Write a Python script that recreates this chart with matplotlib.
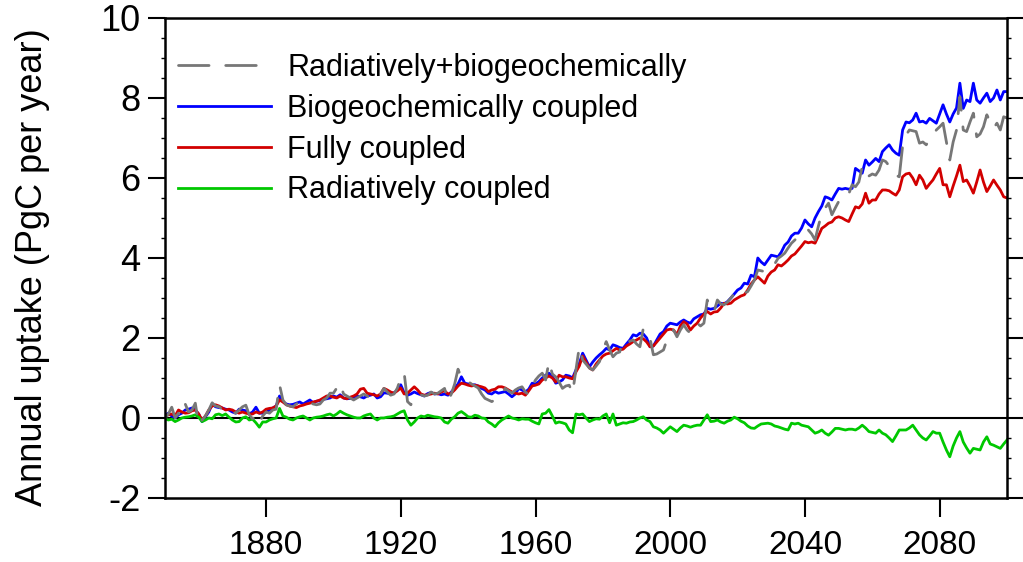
import matplotlib
matplotlib.use("Agg")
import matplotlib.pyplot as plt
from matplotlib.ticker import MultipleLocator

plt.rcParams["font.family"] = ["Liberation Sans", "DejaVu Sans"]
plt.rcParams["axes.unicode_minus"] = False

years = list(range(1850, 2101))

# Radiatively+biogeochemically (grey dashed)
rad_bgc = [
    0.0, 0.1, 0.27, 0.0, 0.12, 0.05, 0.35, 0.15, 0.2, 0.37,
    -0.17, -0.05, 0.05, 0.2, 0.38, 0.3, 0.28, 0.22, 0.15, 0.2,
    0.15, 0.12, 0.2, 0.28, 0.32, 0.08, -0.02, 0.05, -0.13, 0.05,
    0.15, 0.12, 0.2, 0.22, 0.83, 0.45, 0.33, 0.3, 0.28, 0.35,
    0.4, 0.43, 0.4, 0.38, 0.35, 0.33, 0.35, 0.45, 0.5, 0.62,
    0.62, 0.75, 0.87, 0.6, 0.55, 0.5, 0.45, 0.5, 0.55, 0.6,
    0.55, 0.5, 0.48, 0.45, 0.6, 0.74, 0.65, 0.57, 0.6, 0.75,
    1.0, 1.13, 0.41, 0.33, 0.55, 0.6, 0.58, 0.55, 0.57, 0.65,
    0.6, 0.62, 0.68, 0.74, 0.41, 0.6, 0.85, 1.22, 1.0, 0.91,
    0.91, 0.85, 0.8, 0.75, 0.6, 0.49, 0.45, 0.41, 0.45, 0.53,
    0.6, 0.74, 0.68, 0.62, 0.7, 0.75, 0.78, 0.65, 0.58, 0.8,
    0.95, 1.05, 1.12, 0.95, 1.41, 1.1, 1.03, 0.9, 0.74, 0.8,
    0.82, 0.62, 1.2, 1.78, 1.45, 1.35, 1.25, 1.2, 1.3, 1.41,
    1.7, 1.91, 1.7, 1.53, 1.62, 1.65, 1.95, 1.9, 1.92, 1.95,
    1.85, 1.78, 2.24, 2.1, 1.99, 1.58, 1.6, 1.65, 1.7, 1.95,
    2.12, 2.2, 2.03, 2.2, 2.33, 2.2, 2.12, 2.25, 2.37, 2.3,
    2.37, 2.95, 2.7, 2.66, 2.95, 2.85, 2.83, 2.9, 3.0, 3.1,
    3.2, 3.15, 3.12, 3.16, 3.3, 3.45, 3.7, 3.68, 3.66, 3.7,
    3.74, 3.85, 3.99, 4.05, 4.12, 4.25, 4.37, 4.45, 4.53, 4.6,
    4.66, 4.7, 4.6, 4.45, 4.8, 5.12, 5.25, 5.37, 5.08, 5.25,
    5.41, 5.43, 5.45, 5.6, 5.83, 5.78, 5.9, 6.28, 6.03, 6.05,
    6.1, 6.07, 6.2, 6.45, 6.41, 6.3, 6.15, 6.07, 6.03, 6.8,
    7.07, 7.2, 7.18, 7.16, 6.87, 6.9, 6.83, 6.95, 7.07, 7.2,
    7.28, 7.37, 6.9, 6.45, 6.9, 7.2, 8.03, 7.2, 7.16, 7.4,
    7.62, 7.03, 7.1, 7.28, 7.58, 7.4, 7.24, 7.37, 7.2, 7.53,
    7.5,
]

# Biogeochemically coupled (blue)
bgc = [
    0.05, 0.12, 0.05, 0.0, 0.08, 0.12, 0.2, 0.22, 0.25, 0.2,
    0.1, -0.09, 0.03, 0.15, 0.35, 0.28, 0.26, 0.25, 0.22, 0.2,
    0.15, 0.12, 0.22, 0.2, 0.18, 0.1, 0.15, 0.27, 0.12, 0.12,
    0.14, 0.2, 0.25, 0.3, 0.55, 0.41, 0.35, 0.33, 0.34, 0.37,
    0.4, 0.35, 0.4, 0.45, 0.38, 0.42, 0.43, 0.47, 0.48, 0.5,
    0.55, 0.52, 0.58, 0.5, 0.48, 0.49, 0.52, 0.55, 0.53, 0.5,
    0.55, 0.57, 0.6, 0.5, 0.53, 0.63, 0.62, 0.6, 0.63, 0.7,
    0.83, 0.63, 0.57, 0.6, 0.65, 0.61, 0.58, 0.55, 0.61, 0.64,
    0.6, 0.61, 0.58, 0.6, 0.57, 0.65, 0.74, 0.85, 1.03, 0.87,
    0.85, 0.83, 0.83, 0.8, 0.74, 0.7, 0.62, 0.6, 0.66, 0.62,
    0.64, 0.66, 0.6, 0.53, 0.6, 0.74, 0.7, 0.65, 0.72, 0.87,
    0.85, 0.91, 1.0, 1.07, 1.12, 1.05, 0.87, 0.9, 0.95, 1.07,
    1.05, 1.0, 1.2, 1.36, 1.62, 1.45, 1.28, 1.4, 1.5, 1.58,
    1.65, 1.74, 1.7, 1.83, 1.8, 1.76, 1.74, 1.85, 1.95, 2.08,
    2.05, 2.12, 2.1, 2.0, 1.78, 1.8, 1.95, 2.1, 2.16, 2.3,
    2.37, 2.35, 2.33, 2.4, 2.45, 2.4, 2.37, 2.48, 2.53, 2.58,
    2.6, 2.74, 2.72, 2.74, 2.8, 2.87, 2.85, 2.91, 3.0, 3.1,
    3.2, 3.25, 3.37, 3.35, 3.57, 3.53, 4.0, 3.9, 3.83, 3.95,
    4.07, 4.05, 4.03, 4.15, 4.32, 4.4, 4.55, 4.62, 4.62, 4.75,
    4.95, 4.85, 4.78, 5.0, 5.16, 5.3, 5.53, 5.5, 5.45, 5.6,
    5.74, 5.72, 5.74, 5.72, 5.74, 6.24, 6.18, 6.12, 6.45, 6.32,
    6.4, 6.49, 6.41, 6.66, 6.75, 6.83, 6.7, 6.62, 6.57, 7.2,
    7.4, 7.38, 7.45, 7.62, 7.4, 7.42, 7.37, 7.49, 7.43, 7.37,
    7.6, 7.83, 7.6, 7.4, 7.6, 7.75, 8.37, 7.74, 7.95, 7.91,
    8.37, 7.95, 7.87, 8.0, 8.12, 7.91, 8.0, 8.2, 7.95, 8.16,
    8.16,
]

# Fully coupled (red)
full = [
    0.05, 0.08, 0.1, 0.05, 0.2, 0.15, 0.12, 0.13, 0.18, 0.2,
    0.1, -0.05, 0.05, 0.2, 0.3, 0.33, 0.3, 0.25, 0.2, 0.22,
    0.2, 0.15, 0.12, 0.15, 0.12, 0.1, 0.1, 0.15, 0.12, 0.15,
    0.22, 0.24, 0.25, 0.3, 0.45, 0.4, 0.33, 0.3, 0.28, 0.26,
    0.3, 0.32, 0.35, 0.37, 0.4, 0.42, 0.45, 0.5, 0.55, 0.55,
    0.52, 0.5, 0.55, 0.5, 0.48, 0.52, 0.55, 0.6, 0.72, 0.74,
    0.62, 0.6, 0.58, 0.55, 0.6, 0.74, 0.7, 0.65, 0.62, 0.68,
    0.75, 0.6, 0.62, 0.7, 0.78, 0.7, 0.6, 0.57, 0.58, 0.6,
    0.62, 0.6, 0.65, 0.68, 0.6, 0.62, 0.7, 0.8, 0.87, 0.85,
    0.82, 0.8, 0.82, 0.8, 0.78, 0.75, 0.66, 0.7, 0.72, 0.78,
    0.78, 0.75, 0.7, 0.65, 0.62, 0.6, 0.62, 0.57, 0.68, 0.8,
    0.82, 0.85, 0.95, 1.0, 1.05, 1.0, 0.9, 1.07, 1.03, 1.03,
    1.0, 0.98, 1.15, 1.3, 1.55, 1.4, 1.25, 1.2, 1.35, 1.45,
    1.55, 1.6, 1.62, 1.68, 1.74, 1.7, 1.72, 1.8, 1.85, 1.91,
    1.95, 2.0, 1.98, 1.9, 1.78, 1.8, 1.9, 2.0, 2.1, 2.2,
    2.22, 2.2, 2.08, 2.3, 2.41, 2.35, 2.2, 2.3, 2.37, 2.5,
    2.6, 2.66, 2.6, 2.65, 2.66, 2.75, 2.87, 2.85, 2.87, 2.95,
    3.0, 3.05, 3.08, 3.2, 3.35, 3.45, 3.53, 3.45, 3.37, 3.55,
    3.65, 3.7, 3.83, 3.8, 3.87, 3.95, 4.05, 4.1, 4.2, 4.3,
    4.41, 4.38, 4.4, 4.37, 4.55, 4.74, 4.8, 4.87, 4.9, 5.0,
    5.03, 5.0, 4.95, 4.91, 5.1, 5.28, 5.25, 5.35, 5.62, 5.37,
    5.45, 5.45, 5.6, 5.7, 5.7, 5.68, 5.62, 5.57, 5.7, 6.03,
    6.1, 6.12, 6.0, 5.83, 6.07, 5.95, 5.74, 5.85, 5.95, 6.1,
    6.24, 5.83, 5.83, 5.53, 5.8, 6.05, 6.32, 5.91, 5.95, 5.8,
    5.62, 5.9, 6.2, 5.9, 5.66, 5.8, 5.95, 5.82, 5.7, 5.53,
    5.5,
]

# Radiatively coupled (green)
rad = [
    -0.02, -0.05, -0.03, -0.09, -0.05, 0.0, 0.02, 0.03, 0.05, 0.08,
    0.02, -0.09, -0.05, 0.0, -0.02, 0.08, 0.1, 0.06, 0.1, 0.02,
    -0.05, -0.1, -0.09, 0.0, 0.03, -0.05, -0.03, -0.12, -0.23, -0.1,
    -0.1, -0.05, -0.02, 0.0, 0.24, 0.05, 0.02, -0.03, -0.05, 0.0,
    0.03, 0.05, 0.0, -0.05, 0.0, 0.02, 0.03, 0.05, 0.08, 0.1,
    0.05, 0.1, 0.17, 0.12, 0.08, 0.05, 0.02, 0.0, 0.0, 0.05,
    0.08, 0.1, 0.0, -0.05, 0.0, 0.0, 0.02, 0.03, 0.05, 0.1,
    0.15, 0.18, -0.05, -0.18, -0.1, 0.0, 0.05, 0.03, 0.07, 0.05,
    0.03, 0.02, 0.0, -0.1, -0.13, -0.03, 0.03, 0.12, 0.16, 0.1,
    0.03, 0.02, 0.07, 0.05, 0.0, -0.01, -0.1, -0.15, -0.22, -0.12,
    -0.05, 0.0, 0.05, 0.0, -0.02, -0.05, -0.02, -0.03, -0.03, -0.08,
    -0.12, -0.15, 0.1, 0.12, 0.21, 0.05, -0.13, -0.1, -0.12, -0.15,
    -0.3, -0.37, 0.1, 0.08, 0.1, 0.0, -0.09, -0.05, -0.02, -0.03,
    0.05, 0.1, -0.12, 0.1, -0.18, -0.15, -0.12, -0.13, -0.1, -0.09,
    -0.05, 0.0, 0.03, -0.05, -0.09, -0.22, -0.25, -0.3, -0.38, -0.3,
    -0.22, -0.28, -0.34, -0.25, -0.18, -0.2, -0.23, -0.2, -0.18, -0.18,
    -0.05, 0.08, -0.09, -0.08, -0.05, -0.1, -0.13, -0.08, -0.05, 0.02,
    -0.02, -0.08, -0.12, -0.2, -0.25, -0.26, -0.2, -0.15, -0.14, -0.13,
    -0.15, -0.2, -0.22, -0.25, -0.28, -0.3, -0.13, -0.15, -0.13, -0.18,
    -0.2, -0.22, -0.3, -0.38, -0.35, -0.3, -0.38, -0.43, -0.35, -0.26,
    -0.26, -0.28, -0.3, -0.28, -0.28, -0.3, -0.25, -0.18, -0.25, -0.34,
    -0.36, -0.38, -0.3, -0.38, -0.42, -0.5, -0.59, -0.45, -0.3, -0.3,
    -0.3, -0.25, -0.18, -0.3, -0.42, -0.5, -0.55, -0.45, -0.34, -0.38,
    -0.38, -0.6, -0.8, -0.97, -0.7, -0.5, -0.34, -0.6, -0.75, -0.88,
    -0.76, -0.78, -0.8, -0.6, -0.47, -0.65, -0.68, -0.72, -0.76, -0.65,
    -0.55,
]

labels = [
    "Radiatively+biogeochemically",
    "Biogeochemically coupled",
    "Fully coupled",
    "Radiatively coupled",
]
xticks = [1880, 1920, 1960, 2000, 2040, 2080]

fig = plt.figure(figsize=(10.23, 5.62), dpi=100)
ax = fig.add_axes([0.1613, 0.1139, 0.8231, 0.8541])

ax.axhline(0, color="black", lw=1.5, zorder=1)
l_bgc, = ax.plot(years, bgc, color="#0000ff", lw=2.0, label=labels[1])
l_full, = ax.plot(years, full, color="#d20000", lw=2.0, label=labels[2])
l_rad, = ax.plot(years, rad, color="#00c800", lw=2.0, label=labels[3])
l_rb, = ax.plot(years, rad_bgc, color="#777777", lw=2.0,
                dashes=(11, 6), dash_capstyle="round", label=labels[0])

ax.set_xlim(1850, 2100)
ax.set_ylim(-2, 10)
ax.set_xticks(xticks)
ax.yaxis.set_major_locator(MultipleLocator(2))
ax.yaxis.set_minor_locator(MultipleLocator(0.5))

for s in ax.spines.values():
    s.set_linewidth(1.8)

ax.tick_params(axis="x", which="major", direction="out", length=14,
               width=1.5, labelsize=24, top=False, pad=9)
ax.tick_params(axis="y", which="major", direction="out", length=12,
               width=1.5, labelsize=26, right=True, pad=5.5)
ax.tick_params(axis="y", which="minor", direction="out", length=3,
               width=1.0, right=True)

ax.set_ylabel("Annual uptake (PgC per year)", fontsize=26)
ax.yaxis.set_label_coords(-0.137, 0.48)

ax.legend(handles=[l_rb, l_bgc, l_full, l_rad], loc="upper left",
          bbox_to_anchor=(-0.006, 0.965), frameon=False, fontsize=22,
          handlelength=3.05, handletextpad=0.52, labelspacing=0.35,
          borderaxespad=0.2)

fig.savefig("out.png", dpi=100)
